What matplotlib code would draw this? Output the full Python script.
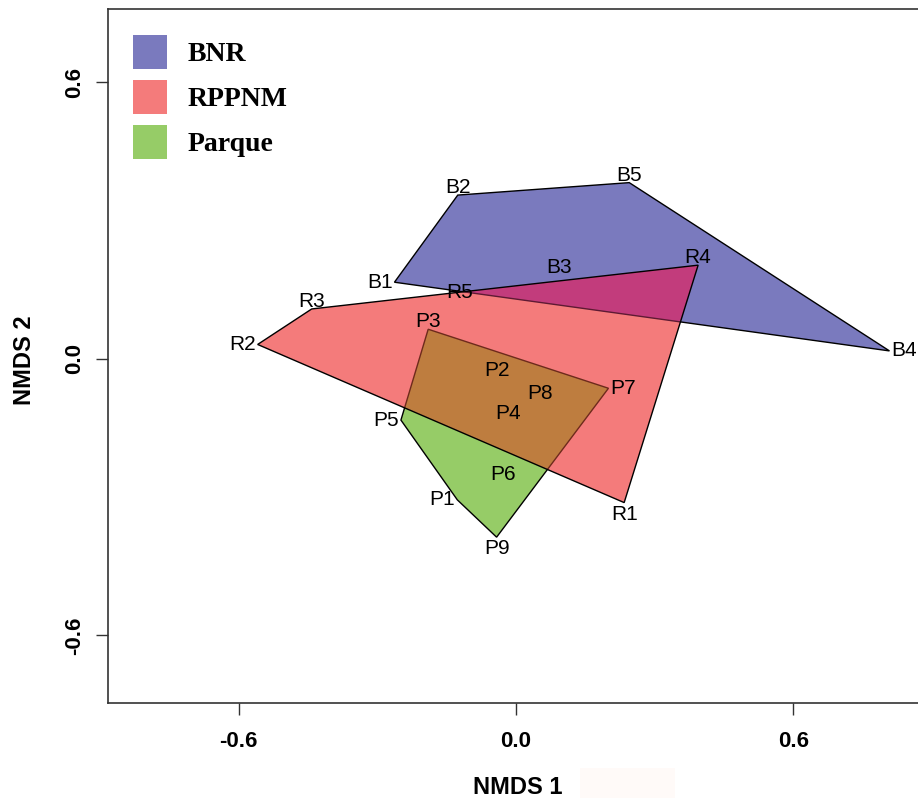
import numpy as np
import matplotlib
matplotlib.use("Agg")
import matplotlib.pyplot as plt
from matplotlib.patches import Polygon, Patch, Rectangle

# NMDS site scores
bnr_names = ["B1", "B2", "B3", "B4", "B5"]
bnr_x = [-0.263, -0.126, 0.093, 0.808, 0.245]
bnr_y = [0.166, 0.355, 0.198, 0.017, 0.382]

rppnm_names = ["R1", "R2", "R3", "R4", "R5"]
rppnm_x = [0.234, -0.559, -0.442, 0.394, -0.121]
rppnm_y = [-0.312, 0.031, 0.108, 0.203, 0.143]

parque_names = ["P1", "P2", "P3", "P4", "P5", "P6", "P7", "P8", "P9"]
parque_x = [-0.127, -0.042, -0.190, -0.017, -0.249, -0.027, 0.200, 0.052, -0.042]
parque_y = [-0.306, -0.025, 0.064, -0.118, -0.133, -0.252, -0.064, -0.075, -0.387]

groups = ["BNR", "RPPNM", "Parque"]
ticks = [-0.6, 0.0, 0.6]

# where each site label sits relative to its point (l/r/t/b/c)
label_side = {
    "B1": "l", "B2": "t", "B3": "c", "B4": "r", "B5": "t",
    "R1": "b", "R2": "l", "R3": "t", "R4": "t", "R5": "c",
    "P1": "l", "P2": "c", "P3": "t", "P4": "c", "P5": "l",
    "P6": "c", "P7": "r", "P8": "c", "P9": "b",
}

col_bnr = "#7a7abe"
col_rppnm = "#f47b7b"
col_parque = "#96cc67"
col_bnr_rppnm = "#c23c7c"
col_parque_rppnm = "#be7d3f"


def hull(x, y):
    # monotone chain convex hull (like R's chull)
    pts = sorted(zip(x, y))

    def cross(o, a, b):
        return (a[0] - o[0]) * (b[1] - o[1]) - (a[1] - o[1]) * (b[0] - o[0])

    lower, upper = [], []
    for p in pts:
        while len(lower) >= 2 and cross(lower[-2], lower[-1], p) <= 0:
            lower.pop()
        lower.append(p)
    for p in reversed(pts):
        while len(upper) >= 2 and cross(upper[-2], upper[-1], p) <= 0:
            upper.pop()
        upper.append(p)
    return np.array(lower[:-1] + upper[:-1])


W, H = 918, 798
fig = plt.figure(figsize=(W / 100, H / 100), dpi=100)
ax_l, ax_r, ax_t, ax_b = 107.7, 932.0, 9.0, 702.7
ax = fig.add_axes([ax_l / W, (H - ax_b) / H, (ax_r - ax_l) / W, (ax_b - ax_t) / H])
ax.set_xlim(-0.8834, 0.90)
ax.set_ylim(-0.746, 0.7586)

hb = hull(bnr_x, bnr_y)
hr = hull(rppnm_x, rppnm_y)
hp = hull(parque_x, parque_y)

ax.add_patch(Polygon(hb, closed=True, fc=col_bnr, ec="black", lw=1.0, zorder=1))
ax.add_patch(Polygon(hp, closed=True, fc=col_parque, ec="black", lw=1.0, zorder=1))
r_patch = Polygon(hr, closed=True, fc=col_rppnm, ec="none", zorder=2)
ax.add_patch(r_patch)

ov1 = Polygon(hb, closed=True, fc=col_bnr_rppnm, ec="#5e1a33", lw=1.0, zorder=3)
ax.add_patch(ov1)
ov1.set_clip_path(r_patch)
ov2 = Polygon(hp, closed=True, fc=col_parque_rppnm, ec="#6e2a1c", lw=1.0, zorder=3)
ax.add_patch(ov2)
ov2.set_clip_path(r_patch)

ax.add_patch(Polygon(hr, closed=True, fill=False, ec="black", lw=1.0, zorder=4))

# site labels
px = 0.72
offsets = {"l": (-2 * px, 0, "right", "center"),
           "r": (2 * px, 0, "left", "center"),
           "t": (0, 2 * px, "center", "baseline"),
           "b": (0, -2 * px, "center", "top"),
           "c": (0, 0, "center", "center")}
for names, xs, ys in [(bnr_names, bnr_x, bnr_y), (rppnm_names, rppnm_x, rppnm_y),
                      (parque_names, parque_x, parque_y)]:
    for n, x, y in zip(names, xs, ys):
        dx, dy, ha, va = offsets[label_side[n]]
        ax.annotate(n, (x, y), xytext=(dx, dy), textcoords="offset points",
                    ha=ha, va=va, fontsize=15, family="Liberation Sans", zorder=5)

# axes styling
for s in ax.spines.values():
    s.set_color("#333333")
    s.set_linewidth(1.2)
ax.spines["right"].set_visible(False)
ax.set_xticks(ticks)
ax.set_yticks(ticks)
ax.set_xticklabels([f"{t:.1f}" for t in ticks])
ax.set_yticklabels([f"{t:.1f}" for t in ticks], rotation=90, va="center")
ax.tick_params(length=8.6, width=1.0, color="#333333", labelsize=16)
ax.tick_params(axis="x", pad=12)
ax.tick_params(axis="y", pad=8)
for lab in ax.get_xticklabels() + ax.get_yticklabels():
    lab.set_fontweight("bold")
    lab.set_family("Liberation Sans")

aw, ah = ax_r - ax_l, ax_b - ax_t
ax.set_xlabel("NMDS 1", fontsize=17, fontweight="bold", family="Liberation Sans")
ax.xaxis.set_label_coords((518 - ax_l) / aw, (ax_b - 776) / ah)
ax.set_ylabel("NMDS 2", fontsize=17, fontweight="bold", family="Liberation Sans")
ax.yaxis.set_label_coords((36 - ax_l) / aw, (ax_b - 360) / ah)

# legend
handles = [Patch(fc=c, ec="none") for c in [col_bnr, col_rppnm, col_parque]]
leg = ax.legend(handles, groups, loc="upper left",
                bbox_to_anchor=((133 - ax_l) / aw, (ax_b - 35) / ah),
                frameon=False, borderpad=0, borderaxespad=0,
                handlelength=1.22, handleheight=1.5, handletextpad=0.76,
                labelspacing=0.4,
                prop={"family": "Liberation Serif", "weight": "bold", "size": 20})

# faint tint next to the x label in the original
fig.patches.append(Rectangle((580 / W, 0), 95 / W, 30 / H, transform=fig.transFigure,
                             fc="#fffaf8", ec="none", zorder=0))

fig.savefig("out.png", dpi=100)
